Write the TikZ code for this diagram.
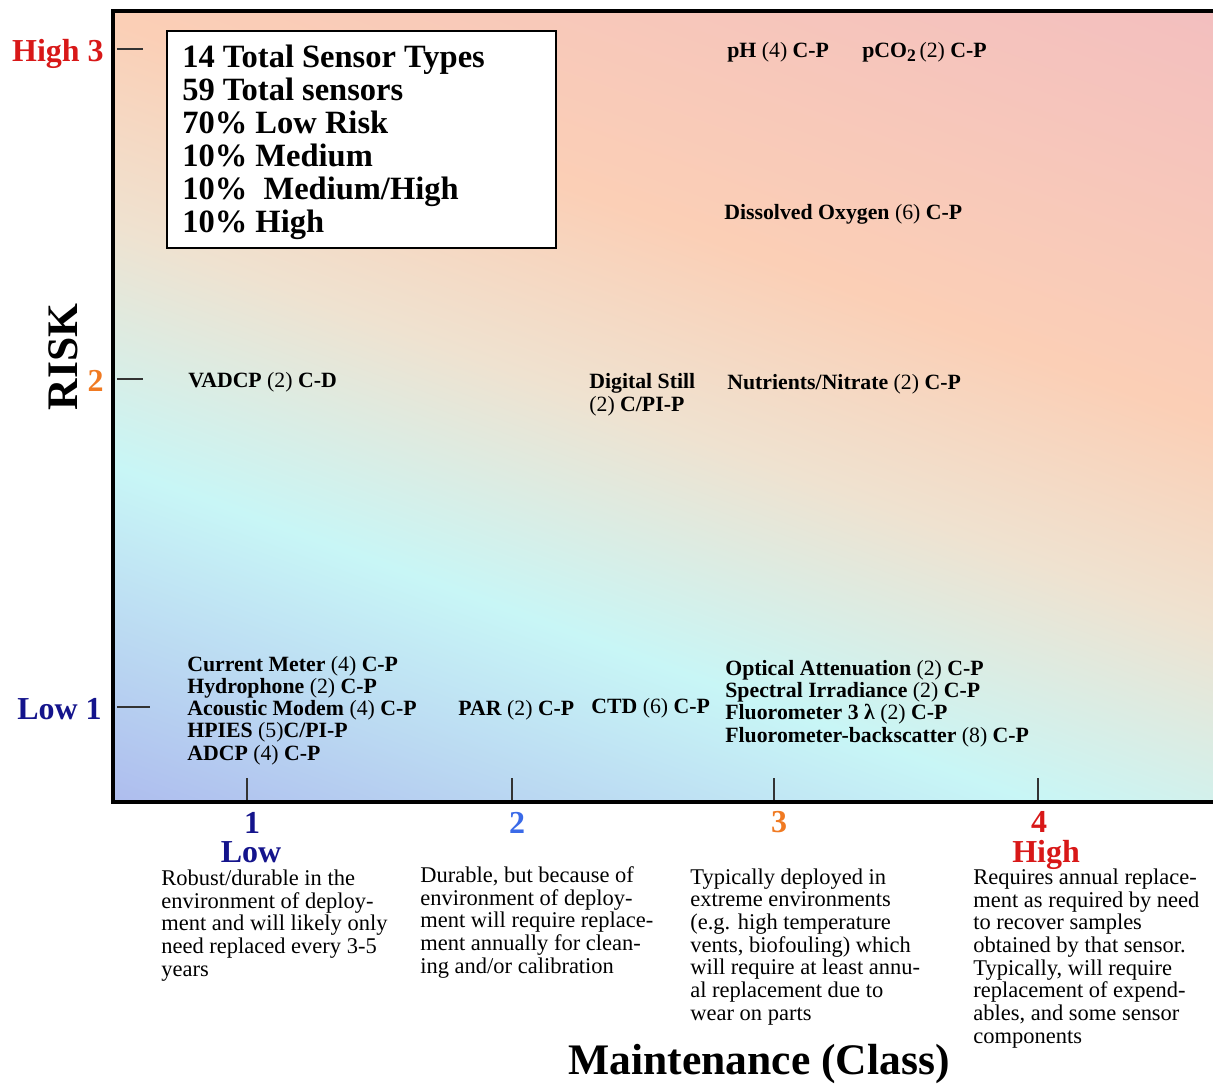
\documentclass[tikz,border=0pt]{standalone}
\usepackage{fontspec}
\setmainfont{Liberation Serif}

\definecolor{riskred}{HTML}{D81818}
\definecolor{risknavy}{HTML}{14148C}
\definecolor{riskorange}{HTML}{F07A22}
\definecolor{riskblue}{HTML}{3A6AE8}
\definecolor{bgA}{HTML}{AEBDEE}
\definecolor{bgB}{HTML}{C8F6F6}
\definecolor{bgC}{HTML}{EFE2D0}
\definecolor{bgD}{HTML}{FBCFB6}
\definecolor{bgE}{HTML}{F3BFBF}
\pgfdeclareverticalshading{riskshade}{100bp}{color(0bp)=(bgA); color(18bp)=(bgA); color(36bp)=(bgB); color(49bp)=(bgC); color(60bp)=(bgD); color(82bp)=(bgE); color(100bp)=(bgE)}

\newcommand{\cnt}[1]{\textmd{(#1)}}

\tikzset{
  sensor/.style={anchor=base west, inner sep=0pt, align=left, font=\fontsize{12.4}{12.65}\selectfont\bfseries},
  classnote/.style={anchor=base west, inner sep=0pt, align=left, font=\fontsize{12.8}{12.87}\selectfont},
  classnum/.style={anchor=base, inner sep=0pt, font=\fontsize{18.2}{18.2}\selectfont\bfseries},
  risklab/.style={anchor=base east, inner sep=0pt, font=\fontsize{18.2}{18.2}\selectfont\bfseries},
  axistitle/.style={inner sep=0pt, font=\fontsize{24.8}{24.8}\selectfont\bfseries},
  tickmark/.style={line width=0.9pt, black!80},
}

\begin{document}
\begin{tikzpicture}[x=0.02cm, y=-0.02cm]
\useasboundingbox (0,0) rectangle (1213,1086);

\shade[shading=riskshade, shading angle=-20] (113,11) rectangle (1213,802);
\draw[line width=2.8pt] (1213,11) -- (113,11) -- (113,802) -- (1213,802);

\draw[tickmark] (117,49) -- (143,49);
\draw[tickmark] (117,379) -- (143,379);
\draw[tickmark] (117,707) -- (150,707);
\foreach \x in {247,512,774,1038}
  \draw[tickmark] (\x,778) -- (\x,800);

\node[risklab, riskred] (hi3) at (104,61) {High 3};
\node[risklab, riskorange] (mid2) at (104,391) {2};
\node[risklab, risknavy] (lo1) at (102,719) {Low 1};
\node[axistitle, rotate=90] (risk) at (63,357) {RISK};

% base of a multi-line node is its last line
\draw[line width=0.8pt, fill=white] (167,31) rectangle (556,248);
\node[anchor=base west, inner sep=0pt, align=left, font=\fontsize{18.5}{18.7}\selectfont\bfseries] (summary) at (182,232)
  {14 Total Sensor Types\\59 Total sensors\\70\% Low Risk\\10\% Medium\\10\%\ \ Medium/High\\10\% High};

\node[sensor] (ph) at (727,57) {pH \cnt{4} C-P};
\node[sensor] (pco2) at (862,57) {pCO\raisebox{-0.45ex}{\fontsize{10}{10}\selectfont 2}\,\cnt{2} C-P};
\node[sensor] (oxy) at (724,219) {Dissolved Oxygen \cnt{6} C-P};
\node[sensor] (vadcp) at (188,387) {VADCP \cnt{2} C-D};
\node[sensor] (still) at (589,411) {Digital Still\\\cnt{2} C/PI-P};
\node[sensor] (nitrate) at (727,389) {Nutrients/Nitrate \cnt{2} C-P};
\node[sensor] (lowlist) at (187,760)
  {Current Meter \cnt{4} C-P\\Hydrophone \cnt{2} C-P\\Acoustic Modem \cnt{4} C-P\\HPIES \cnt{5}C/PI-P\\ADCP \cnt{4} C-P};
\node[sensor] (par) at (458,715) {PAR \cnt{2} C-P};
\node[sensor] (ctd) at (591,713) {CTD \cnt{6} C-P};
\node[sensor] (optlist) at (725,742)
  {Optical Attenuation \cnt{2} C-P\\Spectral Irradiance \cnt{2} C-P\\Fluorometer 3 λ \cnt{2} C-P\\Fluorometer-backscatter \cnt{8} C-P};

\node[classnum, risknavy] (c1) at (252,833) {1};
\node[classnum, risknavy] (c1lab) at (251,862) {Low};
\node[classnum, riskblue] (c2) at (517,833) {2};
\node[classnum, riskorange] (c3) at (779,832) {3};
\node[classnum, riskred] (c4) at (1039,832) {4};
\node[classnum, riskred] (c4lab) at (1046,862) {High};

\node[classnote] (note1) at (161,976)
  {Robust/durable in the\\environment of deploy-\\ment and will likely only\\need replaced every 3-5\\years};
\node[classnote] (note2) at (420,973)
  {Durable, but because of\\environment of deploy-\\ment will require replace-\\ment annually for clean-\\ing and/or calibration};
\node[classnote] (note3) at (690,1020)
  {Typically deployed in\\extreme environments\\(e.g. high temperature\\vents, biofouling) which\\will require at least annu-\\al replacement due to\\wear on parts};
\node[classnote] (note4) at (973,1043)
  {Requires annual replace-\\ment as required by need\\to recover samples\\obtained by that sensor.\\Typically, will require\\replacement of expend-\\ables, and some sensor\\components};

\node[axistitle, anchor=base] (maint) at (759,1074) {Maintenance (Class)};

\end{tikzpicture}
\end{document}
